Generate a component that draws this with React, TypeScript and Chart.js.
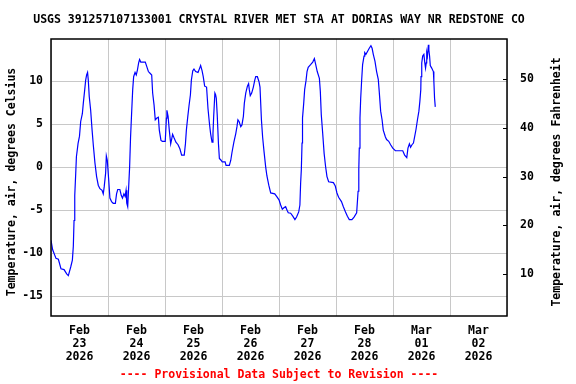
import React, { useEffect, useRef } from 'react';
import { Chart, registerables } from 'chart.js';

Chart.register(...registerables);

const titleText = 'USGS 391257107133001 CRYSTAL RIVER MET STA AT DORIAS WAY NR REDSTONE CO';
const footnoteText = '---- Provisional Data Subject to Revision ----';
const leftAxisTitle = 'Temperature, air, degrees Celsius';
const rightAxisTitle = 'Temperature, air, degrees Fahrenheit';

// one label per day (placed at noon), x axis measured in hours from Feb 23 00:00
const xTickLabels: string[][] = [
  ['Feb', '23', '2026'],
  ['Feb', '24', '2026'],
  ['Feb', '25', '2026'],
  ['Feb', '26', '2026'],
  ['Feb', '27', '2026'],
  ['Feb', '28', '2026'],
  ['Mar', '01', '2026'],
  ['Mar', '02', '2026'],
];
const celsiusTicks = [-15, -10, -5, 0, 5, 10];
const fahrenheitTicks = [10, 20, 30, 40, 50];

const hours = [
  0, 0.7, 2.1, 3.1, 4.2, 5.5, 6.6, 7.3, 8.3, 9.0, 9.4, 9.7, 10.0, 10.4, 10.7, 11.4, 12.0, 12.5, 13.2, 13.6,
  14.2, 14.6, 15.0, 15.4, 15.7, 16.1, 16.7, 17.3, 17.8, 18.5, 19.2, 19.9, 20.6, 21.5, 22.0, 22.4, 23.0, 23.3, 23.7, 24.3,
  24.8, 25.5, 26.2, 27.1, 27.6, 28.1, 29.0, 29.6, 30.1, 30.7, 31.2, 31.6, 31.9, 32.3, 32.7, 33.1, 33.5, 34.0, 34.4, 34.8,
  35.4, 35.9, 36.4, 36.9, 37.3, 37.8, 39.7, 40.3, 41.0, 41.7, 42.4, 42.8, 43.4, 43.9, 44.6, 45.2, 45.6, 46.3, 46.9, 48.1,
  48.6, 48.8, 49.3, 49.8, 50.4, 50.7, 51.2, 51.8, 52.6, 53.5, 54.3, 55.0, 56.1, 56.6, 57.0, 57.6, 58.1, 58.7, 59.1, 59.7,
  60.2, 60.9, 61.9, 62.6, 63.0, 63.6, 64.1, 64.7, 65.5, 66.1, 66.7, 67.2, 67.8, 68.2, 68.5, 69.0, 69.3, 69.6, 70.0, 70.5,
  70.9, 71.6, 72.1, 73.3, 73.7, 75.1, 75.7, 76.2, 77.0, 77.8, 78.3, 78.7, 79.2, 79.9, 80.4, 81.0, 81.4, 82.0, 82.7, 83.2,
  83.5, 83.9, 84.5, 85.2, 85.8, 86.2, 86.9, 87.6, 88.0, 88.6, 89.1, 89.7, 90.4, 90.9, 91.7, 92.5, 94.2, 95.0, 96.0, 96.7,
  97.4, 98.2, 98.8, 99.4, 99.9, 100.9, 101.8, 102.7, 103.4, 104.3, 104.8, 105.1, 105.4, 105.7, 105.9, 106.4, 106.8, 107.4, 107.8, 108.3,
  109.3, 110.2, 110.9, 111.3, 112.1, 113.0, 113.4, 113.8, 114.4, 115.0, 115.6, 116.2, 116.9, 118.9, 119.7, 120.4, 121.1, 122.3, 123.1, 124.0,
  124.8, 125.6, 126.7, 127.6, 128.7, 129.3, 129.6, 129.8, 130.1, 130.4, 130.8, 131.2, 131.8, 132.1, 132.6, 133.2, 134.0, 134.7, 135.2, 135.7,
  136.4, 137.1, 137.8, 138.2, 138.8, 139.4, 139.9, 140.8, 141.3, 142.2, 143.0, 143.9, 145.0, 148.1, 148.9, 149.8, 150.3, 150.9, 151.4, 152.0,
  152.6, 153.1, 153.7, 154.3, 154.9, 155.3, 155.7, 155.8, 156.1, 156.5, 157.0, 157.4, 157.7, 158.0, 158.2, 158.5, 158.9, 159.1, 159.4, 159.7,
  160.3, 161.0, 161.2, 161.5, 161.8,
];

const tempC = [
  -8.5, -9.6, -10.6, -10.7, -11.8, -11.9, -12.4, -12.6, -11.6, -10.8, -9.2, -6.2, -3.3, -0.8, 1.2, 2.75, 3.6, 5.3, 6.2, 7.4,
  9.0, 10.1, 10.7, 11.0, 10.1, 8.2, 6.6, 4.3, 2.6, 0.5, -1.1, -2.1, -2.5, -2.7, -3.1, -2.3, -0.7, 1.3, 0.8, -1.5,
  -3.6, -4.0, -4.2, -4.2, -3.1, -2.6, -2.6, -3.3, -3.6, -3.1, -3.4, -2.7, -4.2, -4.6, -2.3, 0.0, 3.5, 6.6, 9.0, 10.5,
  11.0, 10.7, 11.3, 12.1, 12.5, 12.2, 12.2, 11.7, 11.1, 10.9, 10.7, 8.6, 7.2, 5.5, 5.7, 5.8, 4.3, 3.1, 3.0, 3.0,
  5.7, 6.6, 5.9, 4.3, 2.7, 3.1, 3.8, 3.4, 2.9, 2.6, 2.1, 1.4, 1.4, 2.7, 4.3, 5.9, 7.1, 8.4, 10.1, 11.2,
  11.4, 11.1, 11.0, 11.5, 11.8, 11.2, 10.5, 9.4, 9.3, 6.8, 5.1, 3.9, 2.9, 3.9, 5.9, 8.6, 8.4, 8.0, 6.0, 2.75,
  1.0, 0.8, 0.6, 0.6, 0.2, 0.2, 0.8, 1.7, 2.9, 3.9, 4.7, 5.5, 5.3, 4.7, 4.9, 5.9, 7.4, 8.6, 9.4, 9.7,
  9.0, 8.3, 8.6, 9.3, 10.1, 10.5, 10.5, 9.9, 9.3, 5.5, 3.5, 1.8, 0.0, -1.0, -2.1, -3.0, -3.1, -3.4, -3.8, -4.4,
  -4.9, -4.7, -4.6, -5.0, -5.3, -5.35, -5.7, -6.1, -5.8, -5.2, -4.4, -1.9, -0.3, 2.8, 5.7, 7.4, 9.0, 10.1, 11.1, 11.6,
  11.9, 12.2, 12.6, 12.1, 11.1, 10.3, 8.8, 6.1, 3.9, 1.6, 0.1, -1.1, -1.7, -1.8, -2.2, -3.0, -3.5, -4.0, -4.6, -5.2,
  -5.7, -6.1, -6.1, -5.8, -5.3, -2.8, -0.3, 2.2, 5.7, 8.0, 10.1, 11.9, 12.9, 13.3, 13.1, 13.4, 13.8, 14.1, 13.8, 13.1,
  12.3, 11.1, 10.2, 8.8, 6.5, 5.5, 4.3, 3.5, 3.2, 3.0, 2.6, 2.2, 1.9, 1.9, 1.4, 1.1, 2.2, 2.7, 2.3, 2.6,
  2.8, 3.5, 4.4, 5.5, 6.5, 7.6, 9.0, 10.5, 12.1, 12.9, 13.1, 12.1, 11.5, 12.1, 13.3, 12.9, 14.2, 13.6, 12.9, 11.8,
  11.5, 11.1, 10.0, 8.0, 7.0,
];

const FONT_FAMILY = '"DejaVu Sans Mono", "Liberation Mono", monospace';
const FONT_SIZE = 11.5;
const GRID_COLOR = '#c8c8c8';

const framePlugin = {
  id: 'usgsFrame',
  afterDraw(chart: any) {
    const { ctx, chartArea: a } = chart;
    ctx.save();
    const y1 = chart.scales.y1;
    ctx.strokeStyle = '#000';
    ctx.lineWidth = 1;
    y1.ticks.forEach((t: any) => {
      const py = Math.round(y1.getPixelForValue(t.value)) + 0.5;
      ctx.beginPath();
      ctx.moveTo(a.right - 4, py);
      ctx.lineTo(a.right, py);
      ctx.stroke();
    });
    ctx.lineWidth = 1.5;
    ctx.strokeRect(a.left, a.top, a.right - a.left, a.bottom - a.top);

    ctx.fillStyle = '#000';
    ctx.font = `bold ${FONT_SIZE}px ${FONT_FAMILY}`;
    ctx.textAlign = 'center';
    ctx.textBaseline = 'middle';
    const cy = (a.top + a.bottom) / 2 + 4.5;
    const titles: [number, string][] = [
      [11.7, leftAxisTitle],
      [557, rightAxisTitle],
    ];
    titles.forEach(([cx, text]) => {
      ctx.save();
      ctx.translate(cx, cy);
      ctx.rotate(-Math.PI / 2);
      ctx.fillText(text, 0, 0);
      ctx.restore();
    });
    ctx.restore();
  },
};

export default function App() {
  const canvasRef = useRef<HTMLCanvasElement | null>(null);

  useEffect(() => {
    document.body.style.margin = '0';
    const canvas = canvasRef.current;
    if (!canvas) return;

    const points = hours.map((h, i) => ({ x: h, y: tempC[i] }));
    const font = { family: FONT_FAMILY, size: FONT_SIZE, weight: 'bold' as const, lineHeight: 1.13 };

    const chart = new Chart(canvas, {
      type: 'line',
      data: {
        datasets: [
          {
            label: 'Temperature, air, degrees Celsius',
            data: points,
            borderColor: '#0000ff',
            backgroundColor: '#0000ff',
            borderWidth: 1.2,
            pointRadius: 0,
            tension: 0,
            xAxisID: 'x',
            yAxisID: 'y',
          },
        ],
      },
      options: {
        animation: false,
        responsive: false,
        layout: { padding: { left: 0, right: 18, top: 0, bottom: 0 } },
        plugins: {
          legend: { display: false },
          tooltip: { enabled: false },
          title: {
            display: true,
            text: titleText,
            color: '#000',
            fullSize: true,
            font: { family: FONT_FAMILY, size: FONT_SIZE, weight: 'bold', lineHeight: 1.2 },
            padding: { top: 13, bottom: 12.2 },
          },
          subtitle: {
            display: true,
            position: 'bottom',
            text: footnoteText,
            color: '#ff0000',
            fullSize: true,
            font: { family: FONT_FAMILY, size: FONT_SIZE, weight: 'bold', lineHeight: 1.2 },
            padding: { top: 4, bottom: 1.6 },
          },
        },
        scales: {
          x: {
            type: 'linear',
            position: 'bottom',
            min: 0,
            max: 192,
            afterBuildTicks: (scale: any) => {
              const ticks = [];
              for (let v = 0; v <= 192; v += 12) ticks.push({ value: v });
              scale.ticks = ticks;
            },
            afterFit: (scale: any) => {
              scale.height = 48.6;
            },
            ticks: {
              autoSkip: false,
              maxRotation: 0,
              minRotation: 0,
              padding: 8.2,
              color: '#000',
              font,
              callback: (value: any) => {
                const v = Number(value);
                if (v % 24 === 12) return xTickLabels[(v - 12) / 24] ?? '';
                return '';
              },
            },
            grid: {
              drawTicks: false,
              lineWidth: 1,
              color: (ctx: any) =>
                ctx.tick && ctx.tick.value % 24 === 0 ? GRID_COLOR : 'rgba(0,0,0,0)',
            },
            border: { display: false },
          },
          y: {
            type: 'linear',
            position: 'left',
            min: -17.29,
            max: 14.88,
            afterBuildTicks: (scale: any) => {
              scale.ticks = celsiusTicks.map((v) => ({ value: v }));
            },
            afterFit: (scale: any) => {
              scale.width = 51;
            },
            ticks: { padding: 8, color: '#000', font },
            grid: { drawTicks: false, color: GRID_COLOR, lineWidth: 1 },
            border: { display: false },
          },
          y1: {
            type: 'linear',
            position: 'right',
            min: 1.45,
            max: 58.2,
            afterBuildTicks: (scale: any) => {
              scale.ticks = fahrenheitTicks.map((v) => ({ value: v }));
            },
            afterFit: (scale: any) => {
              scale.width = 51;
            },
            ticks: { padding: 13, color: '#000', font },
            grid: { drawOnChartArea: false, drawTicks: false },
            border: { display: false },
          },
        },
      },
      plugins: [framePlugin],
    });

    return () => {
      chart.destroy();
    };
  }, []);

  return (
    <div style={{ width: 576, height: 384, background: '#fff' }}>
      <canvas ref={canvasRef} width={576} height={384} style={{ display: 'block' }} />
    </div>
  );
}
